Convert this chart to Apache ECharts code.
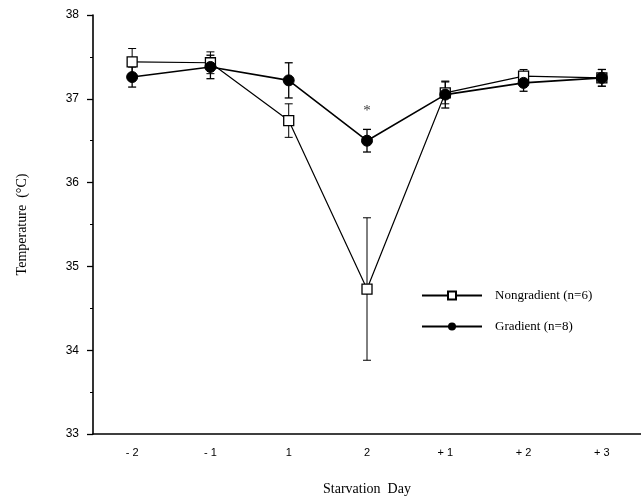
<!DOCTYPE html>
<html>
<head>
<meta charset="utf-8">
<script src="https://cdn.jsdelivr.net/npm/echarts@6/dist/echarts.min.js"></script>
<style>
  html, body { margin: 0; padding: 0; background: #fff; }
  #chart { width: 641px; height: 501px; }
</style>
</head>
<body>
<div id="chart"></div>
<script>
const days = ['- 2', '- 1', '1', '2', '+ 1', '+ 2', '+ 3']
const nongradMean = [37.44, 37.43, 36.74, 34.73, 37.07, 37.27, 37.25]
const nongradErr = [0.16, 0.13, 0.2, 0.85, 0.13, 0.08, 0.1]
const gradMean = [37.26, 37.38, 37.22, 36.5, 37.05, 37.19, 37.25]
const gradErr = [0.12, 0.14, 0.21, 0.135, 0.16, 0.1, 0.1]
const yTicks = [33, 34, 35, 36, 37, 38]
// significance mark above day 2
const starDay = days[3]
const starY = 36.85

const serif = '"Liberation Serif", "DejaVu Serif", serif'
const sans = '"Liberation Sans", Arial, sans-serif'

const chart = echarts.init(document.getElementById('chart'))

const errData = (mean, err) => mean.map((m, i) => [i, m - err[i], m + err[i]])

const errSeries = (mean, err, lw) => ({
  type: 'custom',
  z: 1,
  silent: true,
  renderItem: (params, api) => {
    const lo = api.coord([api.value(0), api.value(1)])
    const hi = api.coord([api.value(0), api.value(2)])
    const w = 4
    const style = { stroke: '#000', lineWidth: lw }
    return {
      type: 'group',
      children: [
        { type: 'line', shape: { x1: lo[0], y1: lo[1], x2: hi[0], y2: hi[1] }, style },
        { type: 'line', shape: { x1: lo[0] - w, y1: lo[1], x2: lo[0] + w, y2: lo[1] }, style },
        { type: 'line', shape: { x1: hi[0] - w, y1: hi[1], x2: hi[0] + w, y2: hi[1] }, style }
      ]
    }
  },
  encode: { x: 0, y: [1, 2] },
  data: errData(mean, err)
})

chart.setOption({
  animation: false,
  grid: { left: 93, right: -15, top: 15, bottom: 67 },
  legend: {
    orient: 'vertical',
    left: 416,
    top: 284,
    itemGap: 18,
    itemWidth: 60,
    itemHeight: 10,
    textStyle: { fontFamily: serif, fontSize: 13, color: '#000', padding: [0, 0, 0, 8] },
    data: ['Nongradient (n=6)', 'Gradient (n=8)']
  },
  xAxis: [{
    type: 'category',
    data: days,
    boundaryGap: true,
    name: 'Starvation  Day',
    nameLocation: 'middle',
    nameGap: 48,
    nameTextStyle: { fontFamily: serif, fontSize: 14, color: '#000' },
    axisLine: { lineStyle: { color: '#000', width: 1.6 } },
    axisTick: { alignWithLabel: true, length: 5, lineStyle: { color: '#000', width: 1.3 } },
    axisLabel: { fontFamily: sans, fontSize: 11, color: '#000', margin: 13 }
  }, {
    type: 'category',
    data: days,
    position: 'bottom',
    axisLine: { show: false },
    axisTick: { length: 3, lineStyle: { color: '#000', width: 1 } },
    axisLabel: { show: false }
  }],
  yAxis: {
    type: 'value',
    min: yTicks[0],
    max: yTicks[yTicks.length - 1],
    interval: 1,
    name: 'Temperature  (°C)',
    nameLocation: 'middle',
    nameGap: 64,
    nameTextStyle: { fontFamily: serif, fontSize: 14, color: '#000' },
    axisLine: { show: true, lineStyle: { color: '#000', width: 1.6 } },
    axisTick: { show: true, length: 6, lineStyle: { color: '#000', width: 1.3 } },
    minorTick: { show: true, splitNumber: 2, length: 3, lineStyle: { color: '#000', width: 1 } },
    splitLine: { show: false },
    axisLabel: { fontFamily: sans, fontSize: 12, color: '#000', margin: 14 }
  },
  series: [
    errSeries(nongradMean, nongradErr, 1),
    errSeries(gradMean, gradErr, 1.3),
    {
      name: 'Nongradient (n=6)',
      type: 'line',
      z: 3,
      data: nongradMean,
      symbol: 'rect',
      symbolSize: 10,
      lineStyle: { color: '#000', width: 1.2 },
      itemStyle: { color: '#fff', borderColor: '#000', borderWidth: 1.3 }
    },
    {
      name: 'Gradient (n=8)',
      type: 'line',
      z: 4,
      data: gradMean,
      symbol: 'circle',
      symbolSize: 11,
      lineStyle: { color: '#000', width: 1.6 },
      itemStyle: { color: '#000', borderColor: '#000' }
    },
    {
      name: 'star',
      type: 'scatter',
      z: 5,
      silent: true,
      symbolSize: 1,
      itemStyle: { color: 'rgba(0,0,0,0)' },
      data: [[starDay, starY]],
      label: { show: true, formatter: '*', position: 'inside', fontFamily: serif, fontSize: 15, color: '#000' }
    }
  ]
})
</script>
</body>
</html>
